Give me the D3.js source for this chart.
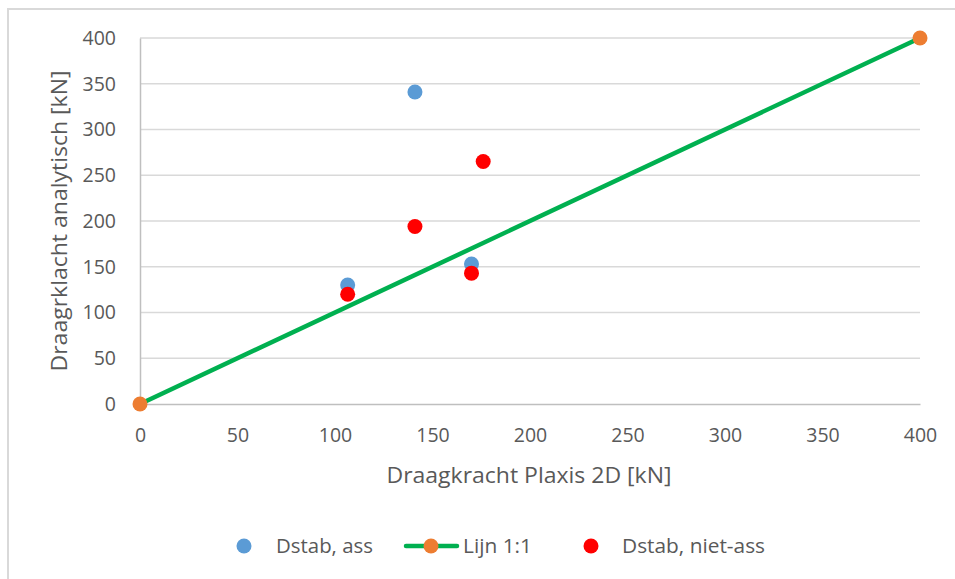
<!DOCTYPE html>
<html>
<head>
<meta charset="utf-8">
<script src="https://cdn.jsdelivr.net/npm/d3@7"></script>
<style>
  html, body { margin: 0; padding: 0; background: #fff; }
  svg { display: block; }
  text { font-family: "Open Sans", "Noto Sans", sans-serif; fill: #595959; }
</style>
</head>
<body>
<svg id="chart" width="955" height="579"></svg>
<script>
// Dstab, asymmetrisch: [Plaxis 2D, analytisch]
const dstabAssX = [106.5, 141, 170];
const dstabAssY = [130, 341, 153];
// Dstab, niet-asymmetrisch
const dstabNietAssX = [106.5, 141, 170, 176];
const dstabNietAssY = [120, 194, 143, 265];
// Lijn 1:1
const lijnX = [0, 400];
const lijnY = [0, 400];

const xTicks = [0, 50, 100, 150, 200, 250, 300, 350, 400];
const yTicks = [0, 50, 100, 150, 200, 250, 300, 350, 400];

const colors = { ass: "#5b9bd5", lijn: "#00b050", lijnMarker: "#ed7d31", niet: "#ff0000" };

const svg = d3.select("#chart");

// chart frame
svg.append("rect")
  .attr("x", 8).attr("y", 9).attr("width", 960).attr("height", 600)
  .attr("fill", "none").attr("stroke", "#d9d9d9").attr("stroke-width", 2);

const x = d3.scaleLinear().domain([0, 400]).range([140, 920]);
const y = d3.scaleLinear().domain([0, 400]).range([404, 38]);

// horizontal gridlines
svg.append("g").selectAll("line").data(yTicks.filter(d => d > 0)).join("line")
  .attr("x1", x(0)).attr("x2", x(400))
  .attr("y1", d => y(d)).attr("y2", d => y(d))
  .attr("stroke", "#d9d9d9").attr("stroke-width", 1.5);

// axes
const yAxis = svg.append("g").attr("transform", `translate(${x(0)},0)`)
  .call(d3.axisLeft(y).tickValues(yTicks).tickSize(0).tickPadding(24));
const xAxis = svg.append("g").attr("transform", `translate(0,${y(0)})`)
  .call(d3.axisBottom(x).tickValues(xTicks).tickSize(0).tickPadding(24));
[yAxis, xAxis].forEach(g => {
  g.select(".domain").attr("stroke", "#bfbfbf").attr("stroke-width", 1.5);
  g.selectAll("text").style("font-family", '"Open Sans", sans-serif')
    .style("font-size", "19.5px").attr("fill", "#595959");
});

// axis titles
svg.append("text")
  .attr("x", 529).attr("y", 483).attr("text-anchor", "middle")
  .attr("textLength", 285).attr("lengthAdjust", "spacingAndGlyphs")
  .style("font-size", "22px").text("Draagkracht Plaxis 2D [kN]");
svg.append("text")
  .attr("transform", "translate(67,221) rotate(-90)").attr("text-anchor", "middle")
  .attr("textLength", 301).attr("lengthAdjust", "spacingAndGlyphs")
  .style("font-size", "22px").text("Draagrklacht analytisch [kN]");

// 1:1 line
const lijnData = lijnX.map((v, i) => [v, lijnY[i]]);
svg.append("path").datum(lijnData)
  .attr("d", d3.line().x(d => x(d[0])).y(d => y(d[1])))
  .attr("fill", "none").attr("stroke", colors.lijn).attr("stroke-width", 4.5)
  .attr("stroke-linecap", "round");
svg.append("g").selectAll("circle").data(lijnData).join("circle")
  .attr("cx", d => x(d[0])).attr("cy", d => y(d[1])).attr("r", 7.5)
  .attr("fill", colors.lijnMarker);

// scatter series
function scatter(xs, ys, color) {
  svg.append("g").selectAll("circle").data(xs.map((v, i) => [v, ys[i]])).join("circle")
    .attr("cx", d => x(d[0])).attr("cy", d => y(d[1])).attr("r", 7.5)
    .attr("fill", color);
}
scatter(dstabAssX, dstabAssY, colors.ass);
scatter(dstabNietAssX, dstabNietAssY, colors.niet);

// legend
const lg = svg.append("g").attr("transform", "translate(0,546)");
const legendText = (x0, len, label) => lg.append("text")
  .attr("x", x0).attr("y", 0).attr("dy", "0.35em")
  .attr("textLength", len).attr("lengthAdjust", "spacingAndGlyphs")
  .style("font-size", "20.5px").text(label);
lg.append("circle").attr("cx", 244).attr("cy", 0).attr("r", 7.5).attr("fill", colors.ass);
legendText(276, 97, "Dstab, ass");
lg.append("line").attr("x1", 406).attr("x2", 457).attr("y1", 0).attr("y2", 0)
  .attr("stroke", colors.lijn).attr("stroke-width", 4.5).attr("stroke-linecap", "round");
lg.append("circle").attr("cx", 431).attr("cy", 0).attr("r", 7.5).attr("fill", colors.lijnMarker);
legendText(463, 69, "Lijn 1:1");
lg.append("circle").attr("cx", 591).attr("cy", 0).attr("r", 7.5).attr("fill", colors.niet);
legendText(622, 143, "Dstab, niet-ass");
</script>
</body>
</html>
